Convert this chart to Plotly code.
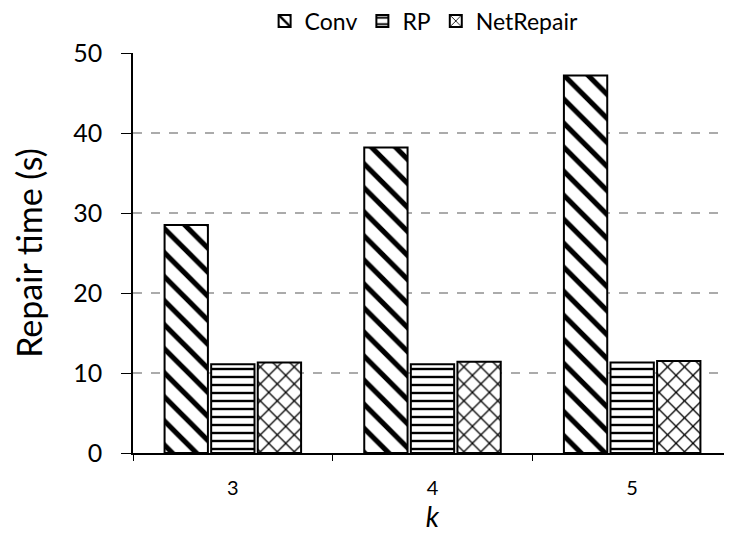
import plotly.graph_objects as go

categories = ["3", "4", "5"]
conv = [28.5, 38.2, 47.2]
rp = [11.1, 11.1, 11.3]
netrepair = [11.3, 11.4, 11.5]

FONT = "Lato"

fig = go.Figure()
fig.add_trace(go.Bar(
    name="Conv", x=categories, y=conv,
    marker=dict(color="white", line=dict(color="black", width=2),
                pattern=dict(shape="\\", fgcolor="black", bgcolor="white", fgopacity=1,
                             size=17, solidity=0.3)),
))
fig.add_trace(go.Bar(
    name="RP", x=categories, y=rp,
    marker=dict(color="white", line=dict(color="black", width=2),
                pattern=dict(shape="-", fgcolor="black", bgcolor="white", fgopacity=1,
                             size=8, solidity=0.3)),
))
fig.add_trace(go.Bar(
    name="NetRepair", x=categories, y=netrepair,
    marker=dict(color="white", line=dict(color="black", width=2),
                pattern=dict(shape="x", fgcolor="black", bgcolor="white", fgopacity=1,
                             size=12, solidity=0.2)),
))

fig.update_layout(
    width=724, height=527,
    margin=dict(l=125, r=0, t=45, b=82, autoexpand=False),
    paper_bgcolor="white", plot_bgcolor="white",
    font=dict(family=FONT, color="black"),
    barmode="group", bargap=0.3, bargroupgap=0.07,
    showlegend=True,
    legend=dict(orientation="h", x=0.486, xanchor="center", y=1.08, yanchor="middle",
                font=dict(size=23, family=FONT), itemwidth=30, traceorder="normal",
                bgcolor="rgba(0,0,0,0)", borderwidth=0),
    xaxis=dict(
        type="category", showline=True, linecolor="black", linewidth=1.5,
        ticks="outside", tickson="boundaries", ticklen=6, tickcolor="black",
        tickfont=dict(size=20, family=FONT), ticklabelstandoff=16,
        title=dict(text="<i>k</i>", font=dict(size=28, family=FONT), standoff=0),
        showgrid=False, zeroline=False,
    ),
    yaxis=dict(
        range=[0, 50], tickvals=[0, 10, 20, 30, 40, 50], showline=True, linecolor="black", linewidth=1.5,
        ticks="outside", ticklen=10, tickcolor="black",
        tickfont=dict(size=25, family=FONT), ticklabelstandoff=14,
        title=dict(text="Repair time (s)", font=dict(size=34, family=FONT), standoff=26),
        showgrid=False, zeroline=False,
        minor=dict(tickvals=[10, 20, 30, 40], showgrid=True, gridcolor="#ababab",
                   gridwidth=1.5, griddash="dash", ticks=""),
    ),
)

fig.write_html("out.html")
